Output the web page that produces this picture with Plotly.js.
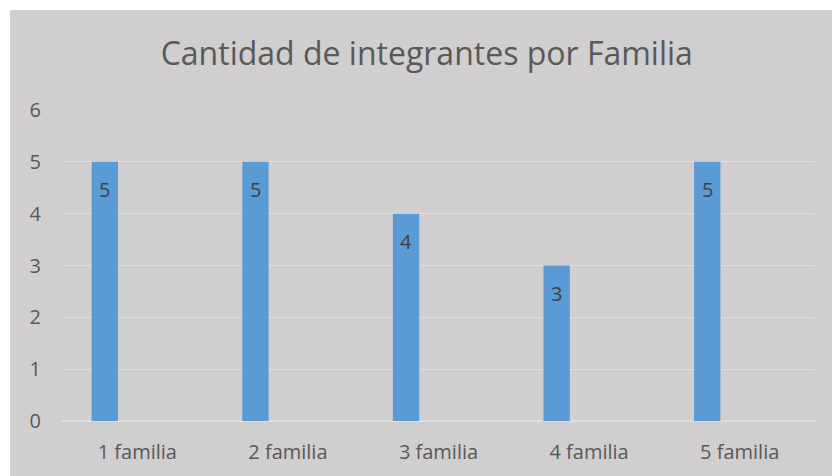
<!DOCTYPE html>
<html><head><meta charset="utf-8">
<script src="https://cdn.plot.ly/plotly-3.0.1.min.js"></script>
<style>html,body{margin:0;padding:0;background:#fff;}#c{position:absolute;left:10px;top:10px;width:822px;height:466px;}</style>
</head><body><div id="c"></div>
<script>
const categories = ["1 familia","2 familia","3 familia","4 familia","5 familia"];
const members = [5,5,4,3,5];
const yTicks = [0,1,2,3,4,5,6];

const trace = {
  type:'bar', x:categories, y:members,
  marker:{color:'#5b9bd5'},
  width:0.175, offset:-0.303,
  hoverinfo:'none'
};
const labels = categories.map((c,i)=>({
  x:c, y:members[i], xref:'x', yref:'y', text:String(members[i]),
  showarrow:false, xanchor:'center', yanchor:'middle', xshift:-32.5, yshift:-28,
  font:{family:'Open Sans, sans-serif', size:20, color:'#404040'}
}));
const layout = {
  width:822, height:466,
  paper_bgcolor:'#d0cece', plot_bgcolor:'#d0cece',
  margin:{l:52,r:17,t:100,b:54.5,pad:0},
  title:{text:'Cantidad de integrantes por Familia', x:0.507, xanchor:'center', y:0.905, yanchor:'middle', yref:'container',
    font:{family:'Open Sans, sans-serif', size:32, color:'#595959'}},
  showlegend:false,
  annotations:labels,
  xaxis:{type:'category', showgrid:false, zeroline:false, showline:false, ticks:'', ticklabelstandoff:17,
    tickfont:{family:'Open Sans, sans-serif', size:20, color:'#595959'}},
  yaxis:{range:[0,6], tickvals:yTicks, showgrid:true, gridcolor:'#dedede', gridwidth:1.3, zeroline:true, zerolinecolor:'#dedede', zerolinewidth:1.3,
    showline:false, ticks:'', ticklabelstandoff:20,
    tickfont:{family:'Open Sans, sans-serif', size:20, color:'#595959'}}
};
Plotly.newPlot('c',[trace],layout,{staticPlot:true});
</script></body></html>
